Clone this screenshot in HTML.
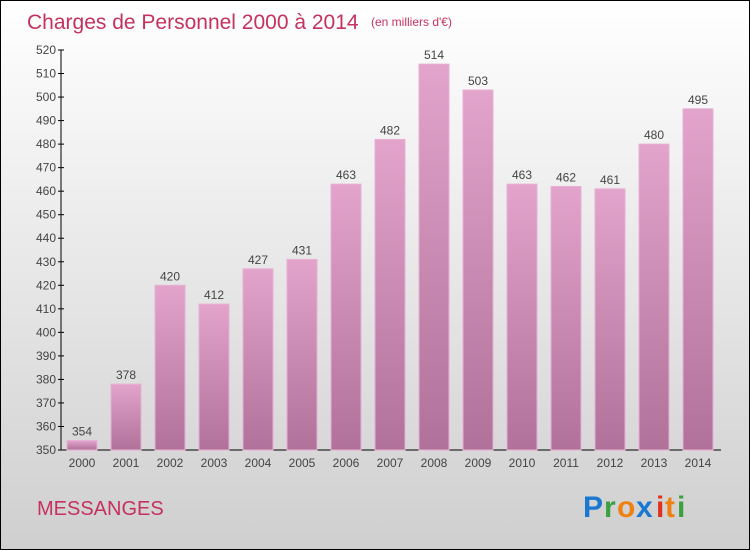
<!DOCTYPE html>
<html><head><meta charset="utf-8"><style>
body{margin:0}
#c{position:relative;width:748px;height:548px;border:1px solid #000;background:linear-gradient(#ffffff,#cfcfcf);font-family:"Liberation Sans",sans-serif;overflow:hidden}
svg{position:absolute;left:0;top:0}
</style></head><body>
<div id="c">
<svg id="s" width="748" height="548">
<defs><linearGradient id="bg" x1="0" y1="0" x2="0" y2="1"><stop offset="0" stop-color="#e2a4cb"/><stop offset="1" stop-color="#b0719a"/></linearGradient></defs>
<text x="26" y="28" font-size="21" fill="#c4325f">Charges de Personnel 2000 à 2014</text>
<text x="370" y="25" font-size="12" fill="#c4325f">(en milliers d'€)</text>
<text x="36" y="514" font-size="20" fill="#c4325f">MESSANGES</text>
<g font-size="30" font-weight="bold" font-family="'Liberation Sans',sans-serif">
<text x="582" y="516" fill="#1a78d0">P</text><text x="603" y="516" fill="#3aa040">r</text><text x="616" y="516" fill="#f08010">o</text><text x="635" y="516" fill="#1a78d0">x</text><text x="655" y="516" fill="#e03020">i</text><text x="664" y="516" fill="#f08010">t</text><text x="676" y="516" fill="#3aa040">i</text></g>
</svg></div>
<script>
const years=["2000","2001","2002","2003","2004","2005","2006","2007","2008","2009","2010","2011","2012","2013","2014"];
const values=[354,378,420,412,427,431,463,482,514,503,463,462,461,480,495];
const yTicks=[350,360,370,380,390,400,410,420,430,440,450,460,470,480,490,500,510,520];
const s=document.getElementById('s');const NS='http://www.w3.org/2000/svg';
const y0=449,y1=49,vmin=350,vmax=520;
const Y=v=>y0-(v-vmin)/(vmax-vmin)*(y0-y1);
const X=i=>81+i*44;
function el(t,a){const e=document.createElementNS(NS,t);for(const k in a)e.setAttribute(k,a[k]);s.appendChild(e);return e;}
let ax=el('line',{x1:60,y1:y1,x2:60,y2:y0,stroke:'#000','stroke-width':1});


let xa=el('line',{x1:60,y1:y0,x2:720,y2:y0,stroke:'#000','stroke-width':1});


yTicks.forEach(v=>{
 let t=el('line',{x1:57,x2:63,y1:Y(v),y2:Y(v),stroke:'#000'});
 
 
 let l=el('text',{x:55,y:Y(v)+4,'font-size':12,'text-anchor':'end',fill:'#444'});l.textContent=v;
 
 
});
years.forEach((yr,i)=>{
 const v=values[i],cx=X(i);
 let r=el('rect',{x:cx-15,y:Y(v),width:30,height:y0-Y(v),fill:'url(#bg)',stroke:'#e8b0d4','stroke-width':1});
 
 
 let vl=el('text',{x:cx,y:Y(v)-5,'font-size':12,'text-anchor':'middle',fill:'#444'});vl.textContent=v;
 
 
 let xl=el('text',{x:cx,y:466,'font-size':12,'text-anchor':'middle',fill:'#444'});xl.textContent=yr;
 
 
});
</script>
</body></html>
